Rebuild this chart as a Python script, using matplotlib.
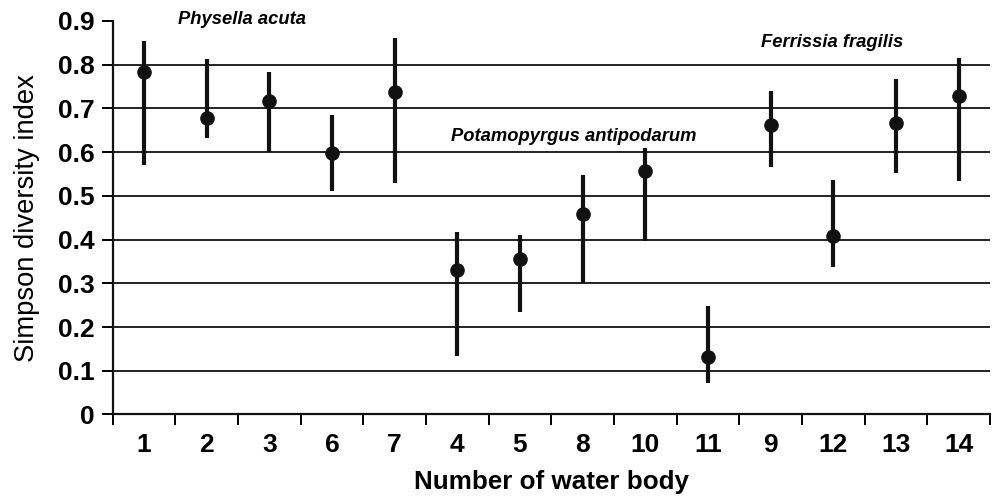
import matplotlib
matplotlib.use('Agg')
import matplotlib.pyplot as plt
import numpy as np

# water bodies in the order shown on the x axis
water_body = ['1', '2', '3', '6', '7', '4', '5', '8', '10', '11', '9', '12', '13', '14']
simpson = [0.782, 0.679, 0.717, 0.598, 0.737, 0.331, 0.355, 0.458, 0.557, 0.132,
           0.662, 0.407, 0.666, 0.729]
upper = [0.855, 0.813, 0.783, 0.685, 0.861, 0.417, 0.411, 0.548, 0.609, 0.247,
         0.739, 0.537, 0.767, 0.816]
lower = [0.571, 0.632, 0.601, 0.512, 0.530, 0.134, 0.235, 0.300, 0.397, 0.071,
         0.567, 0.337, 0.552, 0.533]
species = ['Physella acuta', 'Potamopyrgus antipodarum', 'Ferrissia fragilis']

plt.rcParams['font.family'] = ['Liberation Sans', 'DejaVu Sans']

fig = plt.figure(figsize=(9.97, 4.97), dpi=100)
ax = fig.add_axes([0.113, 0.166, 0.880, 0.792])

x = np.arange(len(water_body))
y = np.array(simpson)
err = [y - np.array(lower), np.array(upper) - y]

for g in np.arange(0.1, 0.85, 0.1):
    ax.axhline(g, color='#222222', lw=1.4, zorder=1)

ax.errorbar(x, y, yerr=err, fmt='o', color='#111111', ms=9.5, elinewidth=3.0,
            capsize=0, zorder=3)

ax.set_xlim(-0.5, len(water_body) - 0.5)
ax.set_ylim(0, 0.9)
ax.set_yticks(np.arange(0, 0.91, 0.1))
ax.set_yticklabels(['0'] + ['%.1f' % v for v in np.arange(0.1, 0.91, 0.1)],
                   fontsize=19, fontweight='bold')
ax.set_xticks(x)
ax.set_xticklabels(water_body, fontsize=19, fontweight='bold')
ax.set_xticks(np.arange(-0.5, len(water_body), 1), minor=True)
ax.tick_params(axis='x', which='major', length=0, pad=13)
ax.tick_params(axis='x', which='minor', length=8, width=1.4, direction='out')
ax.tick_params(axis='y', length=8, width=1.4, direction='out', pad=5)

for s in ['top', 'right']:
    ax.spines[s].set_visible(False)
for s in ['left', 'bottom']:
    ax.spines[s].set_linewidth(1.6)
    ax.spines[s].set_color('#111111')

ax.set_ylabel('Simpson diversity index', fontsize=19.7, labelpad=13)
ax.set_xlabel('Number of water body', fontsize=18.7, fontweight='bold', labelpad=10)

ax.text(1.57, 0.903, species[0], fontsize=13.2, fontweight='bold', style='italic',
        ha='center', va='center', clip_on=False)
ax.text(6.86, 0.635, species[1], fontsize=13.2, fontweight='bold', style='italic',
        ha='center', va='center')
ax.text(10.98, 0.85, species[2], fontsize=13.2, fontweight='bold', style='italic',
        ha='center', va='center')

fig.savefig('out.png', dpi=100)
